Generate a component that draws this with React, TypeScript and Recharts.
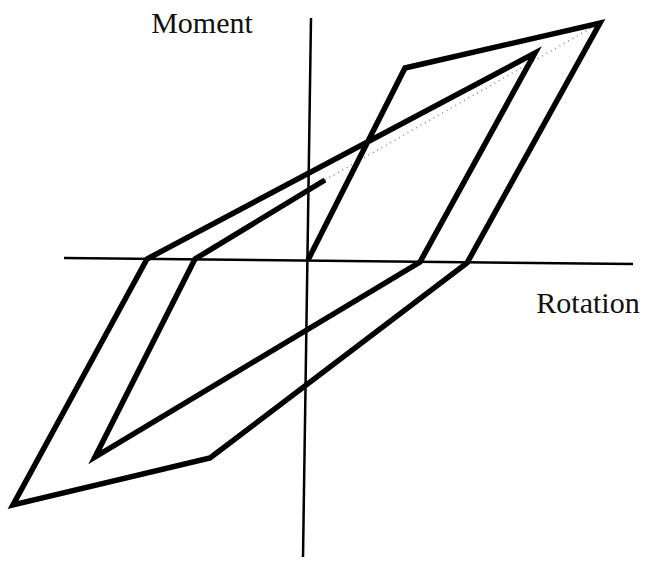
import { LineChart, Line, XAxis, YAxis, ReferenceLine, ReferenceDot } from 'recharts';

// Loading path of the moment–rotation loop, in drawing order
const rotation = [0, 9.7, 29.2, 15.9, -9.8, -29.5, -16.1, 22.7, 11.2, -21.3, -11.3, 1.7];
const moment = [0, 19.2, 23.7, -0.3, -19.8, -24.5, 0.1, 20.7, -0.2, -19.7, 0.1, 8.0];

// Reloading path back toward the previous peak (dotted)
const reloadRotation = [1.7, 29.2];
const reloadMoment = [8.0, 23.7];

// Axis line extents
const rotationAxis = [
  { x: -24.4, y: 0.2 },
  { x: 32.5, y: -0.4 },
];
const momentAxis = [
  { x: 0.3, y: 24.2 },
  { x: -0.5, y: -29.7 },
];

const loop = rotation.map((r, i) => ({ rotation: r, moment: moment[i] }));
const reload = reloadRotation.map((r, i) => ({ rotation: r, moment: reloadMoment[i] }));

const labelFont = { fontFamily: '"Liberation Serif", "Times New Roman", serif', fontSize: 30, fill: '#111' };

const AxisTitle = (text: string) => (props: any) => (
  <text x={props.cx} y={props.cy} textAnchor="middle" {...labelFont}>
    {text}
  </text>
);

export default function App() {
  return (
    <div style={{ position: 'fixed', left: 0, top: 0, background: '#fff' }}>
      <LineChart width={651} height={561} margin={{ top: 0, right: 0, bottom: 0, left: 0 }}>
        <XAxis type="number" dataKey="rotation" domain={[-30.8, 34.3]} allowDataOverflow hide />
        <YAxis type="number" dataKey="moment" domain={[-30.1, 26.0]} allowDataOverflow hide />

        <ReferenceLine segment={rotationAxis} stroke="#000" strokeWidth={2.5} />
        <ReferenceLine segment={momentAxis} stroke="#000" strokeWidth={2.5} />

        <Line
          data={reload}
          dataKey="moment"
          type="linear"
          stroke="#888"
          strokeWidth={1.5}
          strokeDasharray="1 4"
          dot={false}
          isAnimationActive={false}
        />
        <Line
          data={loop}
          dataKey="moment"
          type="linear"
          stroke="#000"
          strokeWidth={5.5}
          strokeLinejoin="miter"
          dot={false}
          activeDot={false}
          isAnimationActive={false}
        />

        <ReferenceDot x={-10.6} y={22.7} r={0} shape={AxisTitle('Moment')} />
        <ReferenceDot x={28.0} y={-5.3} r={0} shape={AxisTitle('Rotation')} />
      </LineChart>
    </div>
  );
}
